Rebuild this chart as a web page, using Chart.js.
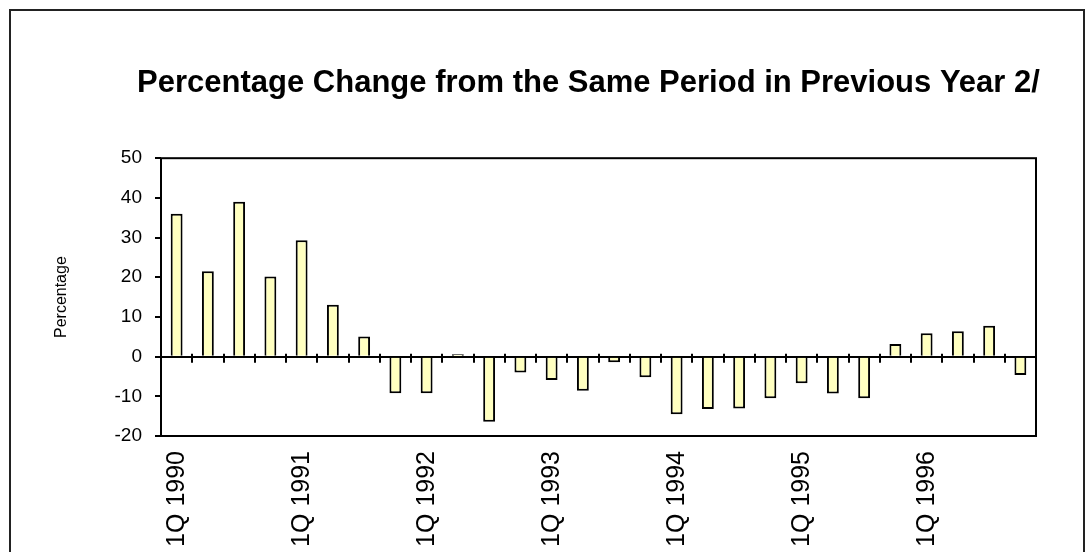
<!DOCTYPE html>
<html>
<head>
<meta charset="utf-8">
<script src="https://cdn.jsdelivr.net/npm/chart.js@4/dist/chart.umd.min.js"></script>
<style>
  html, body { margin: 0; padding: 0; background: #fff; }
  #wrap { width: 1091px; height: 552px; }
</style>
</head>
<body>
<div id="wrap"><canvas id="c" width="1091" height="552"></canvas></div>
<script>
const chartTitle = 'Percentage Change from the Same Period in Previous Year 2/';
const yAxisTitle = 'Percentage';
const categories = [
  '1Q 1990', '2Q 1990', '3Q 1990', '4Q 1990',
  '1Q 1991', '2Q 1991', '3Q 1991', '4Q 1991',
  '1Q 1992', '2Q 1992', '3Q 1992', '4Q 1992',
  '1Q 1993', '2Q 1993', '3Q 1993', '4Q 1993',
  '1Q 1994', '2Q 1994', '3Q 1994', '4Q 1994',
  '1Q 1995', '2Q 1995', '3Q 1995', '4Q 1995',
  '1Q 1996', '2Q 1996', '3Q 1996', '4Q 1996'
];
const shownTickLabels = ['1Q 1990', '1Q 1991', '1Q 1992', '1Q 1993', '1Q 1994', '1Q 1995', '1Q 1996'];
const changeValues = [
  36, 21.5, 39, 20.2,
  29.3, 13.1, 5.1, -9.2,
  -9.2, 0.6, -16.4, -4.0,
  -5.9, -8.6, -1.4, -5.2,
  -14.5, -13.2, -13.1, -10.5,
  -6.7, -9.3, -10.5, 3.2,
  5.9, 6.4, 7.8, -4.6
];
const yTicks = [-20, -10, 0, 10, 20, 30, 40, 50];

const framePlugin = {
  id: 'frame',
  beforeDraw(chart) {
    const ctx = chart.ctx;
    ctx.save();
    ctx.fillStyle = '#ffffff';
    ctx.fillRect(0, 0, chart.width, chart.height);
    ctx.strokeStyle = '#222';
    ctx.lineWidth = 2;
    ctx.strokeRect(10, 10, 1074, 600);
    ctx.restore();
  },
  afterDatasetsDraw(chart) {
    const ctx = chart.ctx;
    const a = chart.chartArea;
    const xs = chart.scales.x;
    const ys = chart.scales.y;
    const y0 = ys.getPixelForValue(0);
    const n = categories.length;
    const step = (xs.right - xs.left) / n;
    ctx.save();
    ctx.strokeStyle = '#000';
    ctx.lineWidth = 2;
    for (let i = 1; i < n; i++) {
      const x = Math.round(xs.left + i * step);
      ctx.beginPath();
      ctx.moveTo(x, y0 - 3);
      ctx.lineTo(x, y0 + 6);
      ctx.stroke();
    }
    ctx.strokeRect(a.left, a.top, a.right - a.left, a.bottom - a.top);
    ctx.restore();
  }
};

new Chart(document.getElementById('c'), {
  type: 'bar',
  data: {
    labels: categories,
    datasets: [{
      data: changeValues,
      backgroundColor: '#ffffc0',
      borderColor: '#000',
      borderWidth: 2,
      barPercentage: 0.38,
      categoryPercentage: 1
    }]
  },
  options: {
    responsive: false,
    animation: false,
    devicePixelRatio: 1,
    layout: { padding: { left: 86, right: 0, top: 0, bottom: 0 } },
    plugins: {
      legend: { display: false },
      tooltip: { enabled: false },
      title: {
        display: true,
        text: chartTitle,
        color: '#000',
        font: { family: 'Liberation Sans, Arial, sans-serif', size: 31, weight: 'bold', lineHeight: 1.2 },
        padding: { top: 65, bottom: 56 }
      }
    },
    scales: {
      x: {
        grid: { display: false },
        border: { display: false },
        ticks: {
          autoSkip: false,
          minRotation: 90,
          maxRotation: 90,
          padding: 7,
          color: '#000',
          font: { family: 'Liberation Sans, Arial, sans-serif', size: 25 },
          callback(value, index) {
            const lab = categories[index];
            return shownTickLabels.includes(lab) ? lab : '';
          }
        },
        afterFit(scale) { scale.height = 116; }
      },
      y: {
        min: -20,
        max: 50,
        afterBuildTicks(scale) { scale.ticks = yTicks.map(v => ({ value: v })); },
        grid: {
          color: ctx => (ctx.tick && ctx.tick.value === 0) ? '#000' : 'rgba(0,0,0,0)',
          lineWidth: 2,
          drawTicks: true,
          tickLength: 6,
          tickColor: '#000',
          tickWidth: 2
        },
        border: { display: false },
        ticks: {
          padding: 13,
          color: '#000',
          font: { family: 'Liberation Sans, Arial, sans-serif', size: 19 }
        },
        title: {
          display: true,
          text: yAxisTitle,
          color: '#000',
          font: { family: 'Liberation Sans, Arial, sans-serif', size: 16, lineHeight: 1.2 },
          padding: { top: -34, bottom: 0 }
        },
        afterFit(scale) { scale.width = 75; }
      },
      yR: {
        position: 'right',
        min: 0,
        max: 1,
        display: true,
        grid: { display: false },
        border: { display: false },
        ticks: { display: false },
        afterFit(scale) { scale.width = 55; }
      }
    }
  },
  plugins: [framePlugin]
});
</script>
</body>
</html>
